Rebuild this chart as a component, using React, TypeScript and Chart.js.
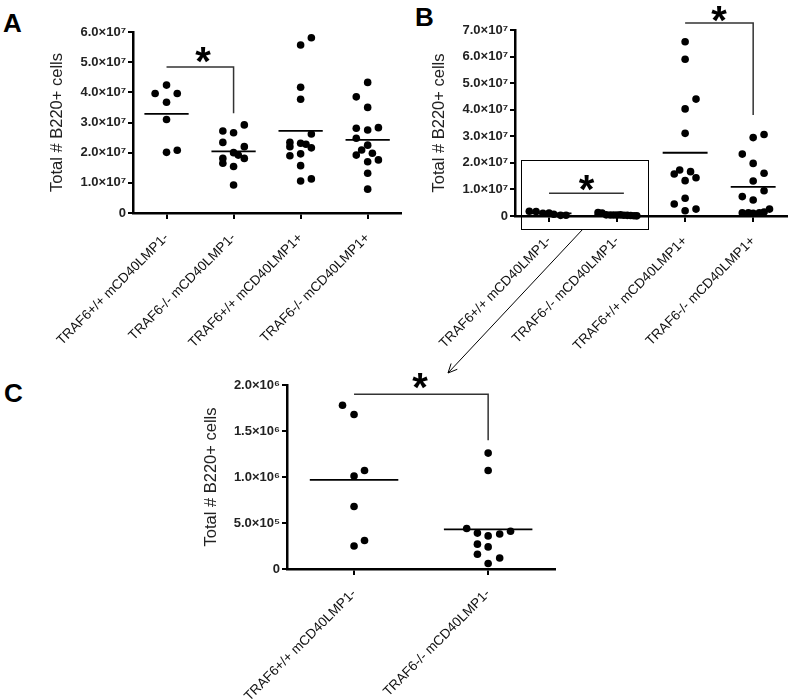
import React, { useEffect, useRef } from "react";
import { Chart, registerables } from "chart.js";
Chart.register(...registerables);

const FONT = "'Liberation Sans', Arial, sans-serif";

// ---------- categories & tick labels ----------
const groupsFour = ["TRAF6+/+ mCD40LMP1-", "TRAF6-/- mCD40LMP1-", "TRAF6+/+ mCD40LMP1+", "TRAF6-/- mCD40LMP1+"];
const groupsTwo = ["TRAF6+/+ mCD40LMP1-", "TRAF6-/- mCD40LMP1-"];
const yTicksA = ["0", "1.0×10⁷", "2.0×10⁷", "3.0×10⁷", "4.0×10⁷", "5.0×10⁷", "6.0×10⁷"];
const yTicksB = ["0", "1.0×10⁷", "2.0×10⁷", "3.0×10⁷", "4.0×10⁷", "5.0×10⁷", "6.0×10⁷", "7.0×10⁷"];
const yTicksC = ["0", "5.0×10⁵", "1.0×10⁶", "1.5×10⁶", "2.0×10⁶"];
const yTitle = "Total # B220+ cells";

// ---------- panel A values (cells) & horizontal jitter (category units) ----------
const a1 = [4.24e7, 3.96e7, 3.96e7, 3.67e7, 3.10e7, 2.01e7, 2.08e7];
const a1x = [0, -0.17, 0.16, 0, 0, 0, 0.16];
const a2 = [2.72e7, 2.66e7, 2.92e7, 2.34e7, 2.20e7, 2.00e7, 1.92e7, 1.81e7, 1.81e7, 1.65e7, 1.54e7, 0.93e7];
const a2x = [-0.16, 0, 0.16, -0.16, 0.16, 0, 0.07, -0.16, 0.16, -0.16, 0, 0];
const a3 = [5.57e7, 5.81e7, 4.17e7, 3.77e7, 2.62e7, 2.34e7, 2.20e7, 2.31e7, 2.28e7, 2.16e7, 1.90e7, 1.96e7, 1.57e7, 1.06e7, 1.13e7];
const a3x = [0, 0.16, 0, 0, 0.16, -0.16, -0.16, 0, 0.08, 0.16, -0.16, 0, 0, 0, 0.16];
const a4 = [4.33e7, 3.85e7, 3.50e7, 2.81e7, 2.75e7, 2.83e7, 2.48e7, 2.25e7, 2.09e7, 1.92e7, 1.98e7, 1.70e7, 1.76e7, 1.32e7, 0.79e7];
const a4x = [0, -0.17, 0, -0.17, 0, 0.16, -0.17, 0, -0.09, -0.17, 0.07, 0, 0.16, 0, 0];

// ---------- panel C values (also the two boxed groups in panel B) ----------
const c1 = [1.78e6, 1.68e6, 1.01e6, 1.07e6, 0.68e6, 0.25e6, 0.31e6];
const c1x = [-0.086, 0, 0, 0.078, 0, 0, 0.078];
const c2 = [1.26e6, 1.07e6, 0.44e6, 0.39e6, 0.36e6, 0.38e6, 0.41e6, 0.27e6, 0.24e6, 0.16e6, 0.12e6, 0.06e6];
const c2x = [0, 0, -0.16, -0.08, 0, 0.086, 0.167, -0.08, 0, -0.08, 0.086, 0];

// ---------- panel B values ----------
const b1x = [-0.29, -0.19, -0.09, 0, 0.07, 0.17, 0.25];
const b2x = [-0.28, -0.22, -0.16, -0.1, -0.05, 0, 0.05, 0.1, 0.15, 0.2, 0.25, 0.29];
const b3 = [6.56e7, 5.90e7, 4.40e7, 4.03e7, 3.11e7, 1.73e7, 1.58e7, 1.67e7, 1.33e7, 1.44e7, 0.67e7, 0.45e7, 0.26e7, 0.20e7];
const b3x = [0, 0, 0.16, 0, 0, -0.08, -0.16, 0.08, 0, 0.16, 0, -0.16, 0.16, 0];
const b4 = [2.95e7, 3.07e7, 2.33e7, 1.98e7, 1.61e7, 1.32e7, 0.73e7, 0.60e7, 0.95e7, 0.12e7, 0.12e7, 0.10e7, 0.12e7, 0.15e7, 0.26e7];
const b4x = [0, 0.16, -0.16, 0, 0.16, 0, -0.16, 0, 0.16, -0.16, -0.07, 0, 0.09, 0.16, 0.24];

const mean = (arr: number[]) => arr.reduce((s, v) => s + v, 0) / arr.length;

const STAR_SIZE = 40;

const annotPlugin = {
  id: "annot",
  afterDraw(chart: any, _args: any, opts: any) {
    const { ctx } = chart;
    const xs = chart.scales.x;
    const ys = chart.scales.y;
    ctx.save();
    (opts.boxes || []).forEach((b: any) => {
      const x0 = Math.round(xs.getPixelForValue(b.x0)) + 0.5;
      const x1 = Math.round(xs.getPixelForValue(b.x1)) + 0.5;
      const y0 = Math.round(ys.getPixelForValue(b.y0)) + 0.5;
      const y1 = Math.round(ys.getPixelForValue(b.y1)) + 0.5;
      ctx.strokeStyle = "#000";
      ctx.lineWidth = 1;
      ctx.strokeRect(x0, y1, x1 - x0, y0 - y1);
    });
    (opts.brackets || []).forEach((b: any) => {
      const x0 = xs.getPixelForValue(b.from);
      const x1 = xs.getPixelForValue(b.to);
      const y = ys.getPixelForValue(b.y);
      ctx.strokeStyle = "#333";
      ctx.lineWidth = 1.5;
      ctx.beginPath();
      ctx.moveTo(x0, y);
      ctx.lineTo(x1, y);
      if (b.drop != null) ctx.lineTo(x1, ys.getPixelForValue(b.drop));
      ctx.stroke();
      ctx.fillStyle = "#000";
      ctx.font = `bold ${STAR_SIZE}px ${FONT}`;
      ctx.textAlign = "center";
      ctx.textBaseline = "alphabetic";
      ctx.fillText("*", (x0 + x1) / 2 + b.starDx, y - b.starDy + STAR_SIZE * 0.57);
    });
    ctx.restore();
  },
};

type PanelProps = {
  left: number;
  top: number;
  width: number;
  height: number;
  cats: string[];
  groups: number[][];
  offsets: number[][];
  yMax: number;
  yStep: number;
  yTicks: string[];
  padTop: number;
  axisW: number;
  xAxisH: number;
  annot: any;
};

function Panel(p: PanelProps) {
  const ref = useRef<HTMLCanvasElement | null>(null);
  useEffect(() => {
    if (!ref.current) return;
    const dots = p.groups.map((g, gi) => ({
      data: g.map((v, k) => ({ x: gi + p.offsets[gi][k], y: v })),
      pointRadius: 3.8,
      pointHoverRadius: 3.8,
      backgroundColor: "#000",
      borderColor: "#000",
      borderWidth: 0,
      showLine: false,
      clip: false,
    }));
    const means = p.groups.map((g, gi) => {
      const m = mean(g);
      return {
        data: [
          { x: gi - 0.33, y: m },
          { x: gi + 0.33, y: m },
        ],
        pointRadius: 0,
        borderColor: "#000",
        borderWidth: 1.8,
        showLine: true,
        fill: false,
        clip: false,
      };
    });
    const chart = new Chart(ref.current, {
      type: "scatter",
      data: { datasets: [...dots, ...means] as any },
      plugins: [annotPlugin as any],
      options: {
        responsive: false,
        animation: false,
        devicePixelRatio: 1,
        layout: { padding: { top: p.padTop, left: 0, right: 0, bottom: 0 } },
        plugins: {
          legend: { display: false },
          tooltip: { enabled: false },
          annot: p.annot,
        } as any,
        scales: {
          x: {
            type: "linear",
            min: -0.5,
            max: p.cats.length - 0.5,
            afterBuildTicks: (s: any) => {
              s.ticks = p.cats.map((_, i) => ({ value: i }));
            },
            afterFit: (s: any) => {
              s.height = p.xAxisH;
              s.paddingLeft = 0;
              s.paddingRight = 0;
            },
            ticks: {
              autoSkip: false,
              maxRotation: 45,
              minRotation: 45,
              padding: 11,
              color: "#111",
              font: { family: FONT, size: 13.5 },
              callback: (_v: any, i: number) => p.cats[i],
            },
            grid: { drawOnChartArea: false, drawTicks: true, tickLength: 6, color: "#000", lineWidth: 2 },
            border: { display: true, color: "#000", width: 2.5 },
          },
          y: {
            type: "linear",
            min: 0,
            max: p.yMax,
            afterFit: (s: any) => {
              s.width = p.axisW;
            },
            ticks: {
              stepSize: p.yStep,
              padding: 2,
              color: "#222",
              font: { family: FONT, size: 13, weight: "bold" },
              callback: (_v: any, i: number) => p.yTicks[i],
            },
            grid: { drawOnChartArea: false, drawTicks: true, tickLength: 5, color: "#000", lineWidth: 2 },
            border: { display: true, color: "#000", width: 2.5 },
            title: {
              display: true,
              text: yTitle,
              color: "#222",
              font: { family: FONT, size: 16.5 },
              padding: { top: 4, bottom: 4 },
            },
          },
        },
      } as any,
    });
    return () => chart.destroy();
  }, []);
  return (
    <canvas
      ref={ref}
      width={p.width}
      height={p.height}
      style={{ position: "absolute", left: p.left, top: p.top, width: p.width, height: p.height }}
    />
  );
}

const labelStyle = (left: number, top: number): React.CSSProperties => ({
  position: "absolute",
  left,
  top,
  font: `bold 26px ${FONT}`,
  lineHeight: 1,
  color: "#000",
});

// arrow from the inset box in B to panel C (annotation geometry)
const arrowFrom = { x: 583, y: 229 };
const arrowTo = { x: 448, y: 373 };

function Arrow() {
  const dx = arrowFrom.x - arrowTo.x;
  const dy = arrowFrom.y - arrowTo.y;
  const len = Math.hypot(dx, dy);
  const ux = dx / len;
  const uy = dy / len;
  const a = (25 * Math.PI) / 180;
  const h = 10;
  const p1 = { x: arrowTo.x + h * (ux * Math.cos(a) - uy * Math.sin(a)), y: arrowTo.y + h * (ux * Math.sin(a) + uy * Math.cos(a)) };
  const p2 = { x: arrowTo.x + h * (ux * Math.cos(-a) - uy * Math.sin(-a)), y: arrowTo.y + h * (ux * Math.sin(-a) + uy * Math.cos(-a)) };
  return (
    <svg width={800} height={699} style={{ position: "absolute", left: 0, top: 0, pointerEvents: "none" }}>
      <line x1={arrowFrom.x} y1={arrowFrom.y} x2={arrowTo.x} y2={arrowTo.y} stroke="#000" strokeWidth={1} />
      <polyline points={`${p1.x},${p1.y} ${arrowTo.x},${arrowTo.y} ${p2.x},${p2.y}`} fill="none" stroke="#000" strokeWidth={1} />
    </svg>
  );
}

export default function App() {
  return (
    <div style={{ position: "fixed", left: 0, top: 0, width: 800, height: 699, overflow: "hidden", background: "#fff" }}>
      <div style={labelStyle(3, 10)}>A</div>
      <div style={labelStyle(415, 4)}>B</div>
      <div style={labelStyle(4, 380)}>C</div>
      <Panel
        left={44}
        top={0}
        width={361}
        height={353}
        cats={groupsFour}
        groups={[a1, a2, a3, a4]}
        offsets={[a1x, a2x, a3x, a4x]}
        yMax={6e7}
        yStep={1e7}
        yTicks={yTicksA}
        padTop={32}
        axisW={89}
        xAxisH={140}
        annot={{ brackets: [{ from: 0, to: 1, y: 4.84e7, drop: 3.31e7, starDx: 3, starDy: 15 }] }}
      />
      <Panel
        left={426}
        top={0}
        width={365}
        height={356}
        cats={groupsFour}
        groups={[c1, c2, b3, b4]}
        offsets={[b1x, b2x, b3x, b4x]}
        yMax={7e7}
        yStep={1e7}
        yTicks={yTicksB}
        padTop={30}
        axisW={89}
        xAxisH={140}
        annot={{
          boxes: [{ x0: -0.41, x1: 1.46, y0: -0.49e7, y1: 2.11e7 }],
          brackets: [
            { from: 2, to: 3, y: 7.26e7, drop: 3.8e7, starDx: 0, starDy: 12 },
            { from: 0, to: 1.1, y: 0.86e7, drop: null, starDx: 0, starDy: 13 },
          ],
        }}
      />
      <Panel
        left={198}
        top={355}
        width={361}
        height={344}
        cats={groupsTwo}
        groups={[c1, c2]}
        offsets={[c1x, c2x]}
        yMax={2e6}
        yStep={5e5}
        yTicks={yTicksC}
        padTop={30}
        axisW={89}
        xAxisH={130}
        annot={{ brackets: [{ from: 0, to: 1, y: 1.9e6, drop: 1.4e6, starDx: -1, starDy: 16 }] }}
      />
      <Arrow />
    </div>
  );
}
